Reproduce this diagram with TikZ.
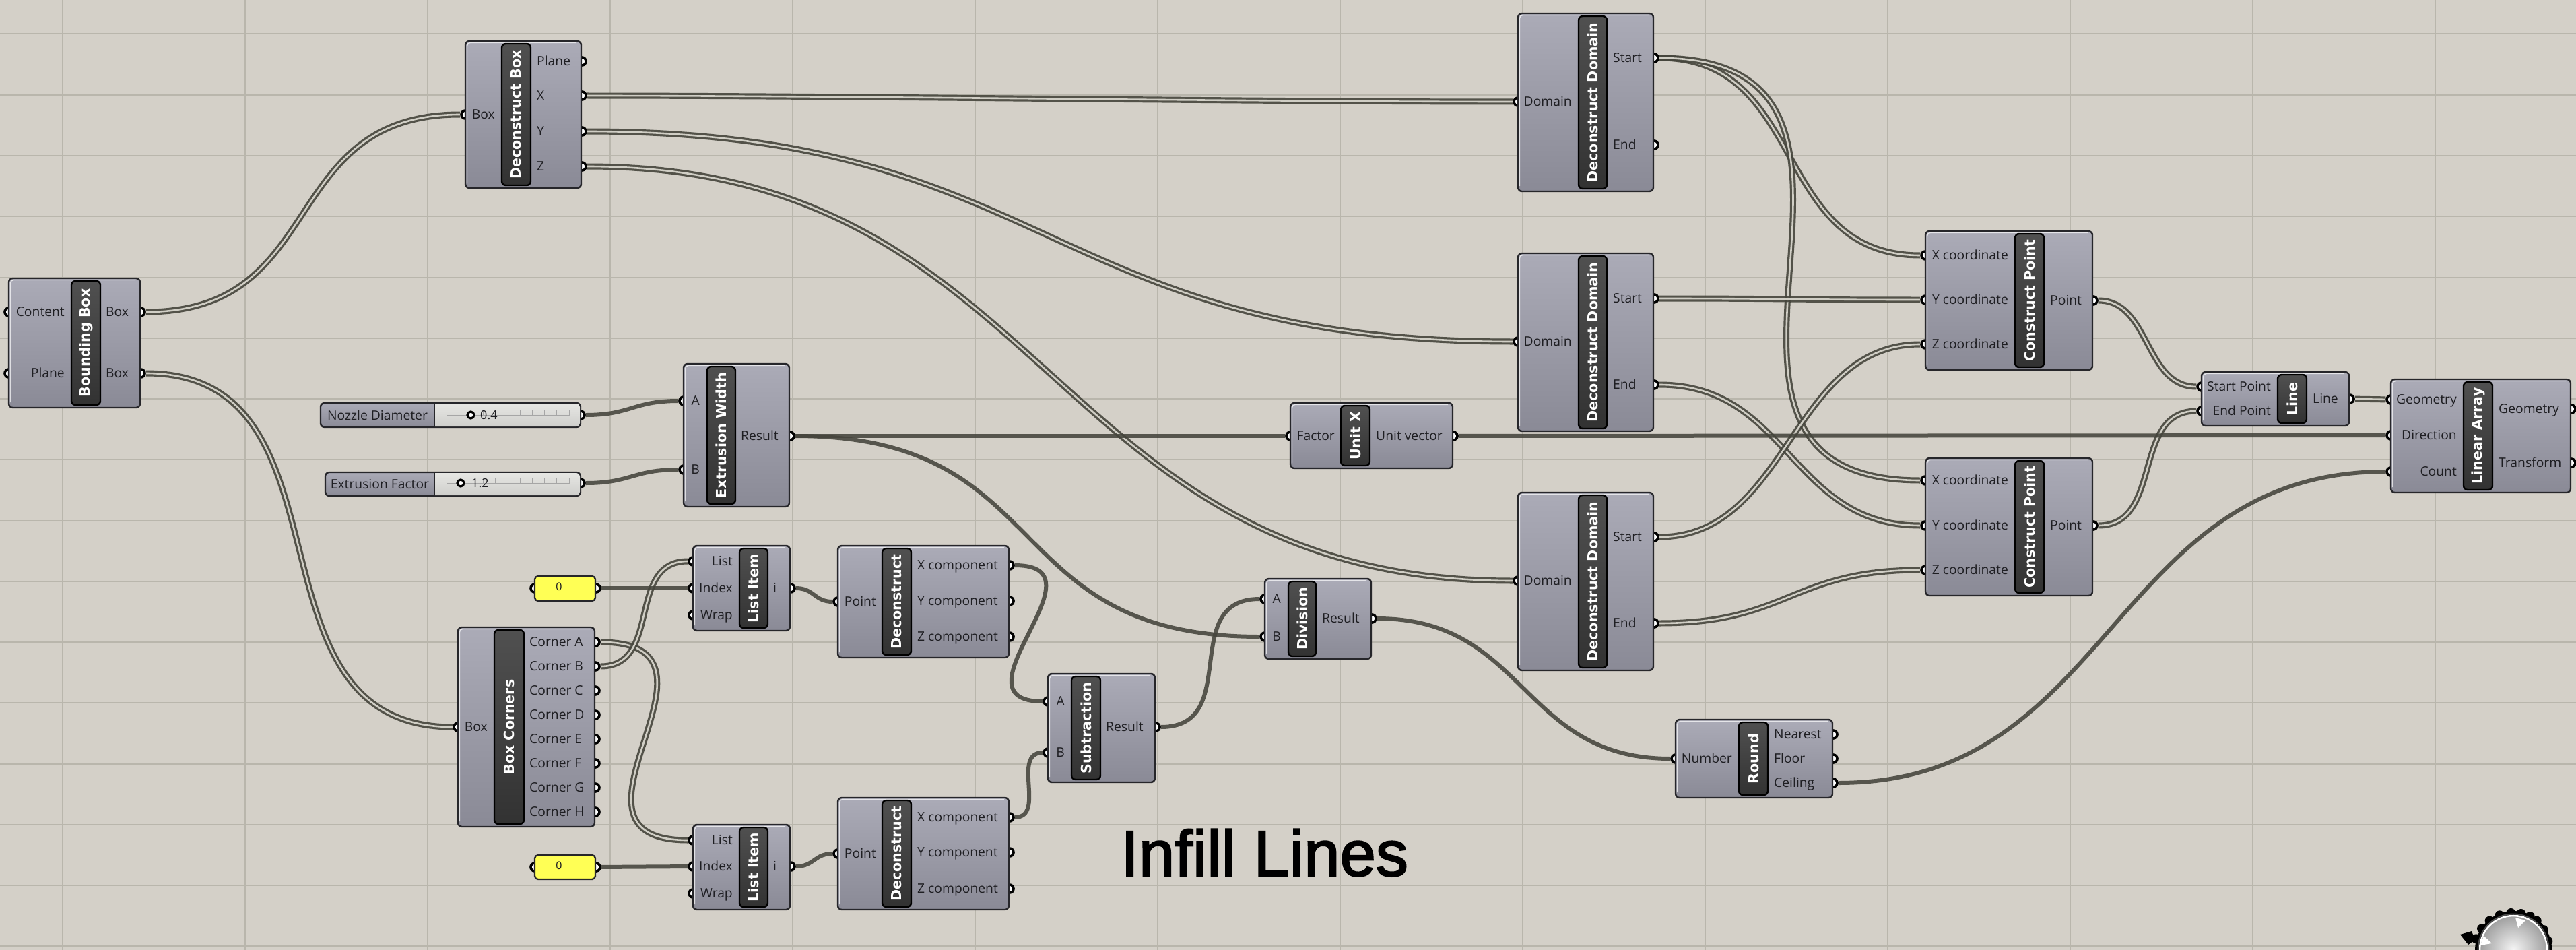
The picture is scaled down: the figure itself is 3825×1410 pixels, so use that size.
\documentclass[tikz,border=0pt]{standalone}
\usepackage{fontspec}
\setmainfont{Open Sans}
\newfontfamily\ghtitlefont{DejaVu Sans}
\newfontfamily\infillfont[FakeBold=2.2]{Liberation Sans}
\usetikzlibrary{shadings}
\pgfdeclarelayer{grid}
\pgfdeclarelayer{wires}
\pgfdeclarelayer{ports}
\pgfsetlayers{grid,wires,ports,main}
\definecolor{canvasbg}{HTML}{D4D0C8}
\definecolor{gridc}{HTML}{B9B6AC}
\definecolor{wiredark}{HTML}{45453C}
\definecolor{wirelight}{HTML}{DEDCD3}
\definecolor{bodytop}{HTML}{ABABB7}
\definecolor{bodybot}{HTML}{8A8A96}
\definecolor{bartop}{HTML}{505050}
\definecolor{barbot}{HTML}{323232}
\definecolor{edgec}{HTML}{26262A}
\definecolor{labelc}{HTML}{1E1E22}
\definecolor{panelc}{HTML}{FFFF55}
\definecolor{slidertop}{HTML}{E6E6E3}
\definecolor{sliderbot}{HTML}{CFCFCC}
\tikzset{
  gridh/.style={gridc,line width=2.6pt},
  gridv/.style={gridc,line width=2pt},
  ghbody/.style={draw=edgec,line width=2.4pt,rounded corners=6pt,inner sep=0pt,outer sep=0pt,top color=bodytop,bottom color=bodybot},
  ghbar/.style={draw=black,line width=2.4pt,rounded corners=6pt,inner sep=0pt,outer sep=0pt,top color=bartop,bottom color=barbot},
  ghtitle/.style={text=white,inner sep=0pt,rotate=90,font=\ghtitlefont\bfseries\fontsize{20.6}{22}\selectfont},
  ghlabel/.style={text=labelc,inner sep=0pt,font=\fontsize{19.3}{21}\selectfont},
  ghport/.style={circle,fill=white,draw=black,line width=3.6pt,minimum size=12pt,inner sep=0pt},
  listwire/.style={preaction={draw=wiredark,line width=9pt,draw opacity=.9},draw=wirelight,line width=2.6pt,draw opacity=.9},
  itemwire/.style={draw=wiredark,line width=6pt,draw opacity=.88},
  hilite/.style={white,line width=1.4pt,opacity=.7},
  yellowbox/.style={draw=edgec,line width=2.4pt,rounded corners=5pt,fill=panelc,inner sep=0pt},
  valuetext/.style={text=labelc,inner sep=0pt,font=\fontsize{18}{20}\selectfont},
}
% id x1 y1 x2 y2 barx1 barx2 title
\newcommand{\ghcomp}[8]{%
  \node[ghbody,minimum width={(#4-#2)*1pt},minimum height={(#5-#3)*1pt}] (#1) at ({(#2+#4)/2},{(#3+#5)/2}) {};
  \draw[hilite] ({#2+2.5},{#5-8}) -- ({#2+2.5},{#3+7}) arc[start angle=180,end angle=90,radius=4.5pt] -- ({#4-7},{#3+2.5});
  \node[ghbar,minimum width={(#7-#6)*1pt},minimum height={(#5-#3-8)*1pt}] (#1-bar) at ({(#6+#7)/2},{(#3+#5)/2}) {};
  \node[ghtitle] (#1-title) at ({(#6+#7)/2},{(#3+#5)/2}) {#8};
}
% port name, x, y, label x, label
\newcommand{\ghin}[5]{%
  \begin{pgfonlayer}{ports}\node[ghport] (#1) at (#2,#3) {};\end{pgfonlayer}
  \node[ghlabel,anchor=base east] (#1-l) at (#4,{#3+6.5}) {#5};
}
\newcommand{\ghout}[5]{%
  \begin{pgfonlayer}{ports}\node[ghport] (#1) at (#2,#3) {};\end{pgfonlayer}
  \node[ghlabel,anchor=base west] (#1-l) at (#4,{#3+6.5}) {#5};
}
% id x1 y1 x2 y2 divider portname porty label
\newcommand{\ghslider}[9]{%
  \begin{pgfonlayer}{ports}\node[ghport] (#7) at (#4,#8) {};\end{pgfonlayer}
  \node[ghbody,minimum width={(#4-#2)*1pt},minimum height={(#5-#3)*1pt}] (#1) at ({(#2+#4)/2},{(#3+#5)/2}) {};
  \fill[top color=slidertop,bottom color=sliderbot] (#6,{#3+1}) [rounded corners=5pt] -- ({#4-1},{#3+1}) -- ({#4-1},{#5-1}) [sharp corners] -- (#6,{#5-1}) -- cycle;
  \draw[edgec,line width=2pt] (#6,#3) -- (#6,#5);
  \node[ghlabel] (#1-l) at ({(#2+#6)/2},{(#3+#5)/2}) {#9};
}
\begin{document}
\begin{tikzpicture}[x=1pt,y=-1pt]
\useasboundingbox (0,0) rectangle (3825,1410);
\begin{pgfonlayer}{grid}
  \fill[canvasbg] (0,0) rectangle (3825,1410);
  \foreach \yy in {50,141,231,321,412,502,592,682,773,863,953,1043,1134,1224,1314,1404}
    \draw[gridh] (0,\yy) -- (3825,\yy);
  \foreach \xx in {93,364,635,906,1177,1448,1719,1990,2261,2532,2803,3074,3345,3616}
    \draw[gridv] (\xx,0) -- (\xx,1410);
\end{pgfonlayer}

% Bounding Box
\ghcomp{bb}{13}{413}{208}{605}{106}{149}{Bounding Box}
\ghin{bbC}{13}{463}{96}{Content}
\ghin{bbP}{13}{554}{96}{Plane}
\ghout{bbA}{209}{463}{157}{Box}
\ghout{bbB}{209}{554}{157}{Box}
% Deconstruct Box
\ghcomp{db}{691}{61}{863}{279}{745}{788}{Deconstruct Box}
\ghin{dbB}{691}{170}{735}{Box}
\ghout{dbP}{864}{91}{797}{Plane}
\ghout{dbX}{864}{142}{797}{X}
\ghout{dbY}{864}{195}{797}{Y}
\ghout{dbZ}{864}{247}{797}{Z}
% Extrusion Width
\ghcomp{ew}{1015}{540}{1172}{752}{1050}{1092}{Extrusion Width}
\ghin{ewA}{1015}{595}{1039}{A}
\ghin{ewB}{1015}{697}{1039}{B}
\ghout{ewR}{1173}{647}{1100}{Result}
% Sliders
\ghslider{s1}{476}{598}{862}{634}{645}{s1o}{616}{Nozzle Diameter}
\ghslider{s2}{483}{701}{862}{736}{645}{s2o}{717}{Extrusion Factor}
\foreach \i in {0,...,10}{
  \draw[gray!70,line width=1pt] ({663+18.2*\i},608) -- ({663+18.2*\i},617);
  \draw[gray!70,line width=1pt] ({663+18.2*\i},709) -- ({663+18.2*\i},718);
}
\draw[gray!70,line width=1pt] (663,616) -- (845,616);
\draw[gray!70,line width=1pt] (663,717) -- (845,717);
\node[circle,fill=white,draw=black,line width=3.2pt,minimum size=10pt,inner sep=0pt] (s1h) at (699,616) {};
\node[circle,fill=white,draw=black,line width=3.2pt,minimum size=10pt,inner sep=0pt] (s2h) at (684,717) {};
\node[valuetext,anchor=base west] (s1v) at (713,622.5) {0.4};
\node[valuetext,anchor=base west] (s2v) at (700,723.5) {1.2};
% Unit X
\ghcomp{ux}{1916}{598}{2157}{695}{1991}{2034}{Unit X}
\ghin{uxF}{1916}{647}{1982}{Factor}
\ghout{uxV}{2158}{647}{2043}{Unit vector}
% Deconstruct Domain
\ghcomp{dd}{2254}{20}{2455}{284}{2344}{2386}{Deconstruct Domain}
\ghin{ddD}{2254}{151}{2334}{Domain}
\ghout{ddS}{2456}{86}{2395}{Start}
\ghout{ddE}{2456}{215}{2395}{End}
\ghcomp{de}{2254}{376}{2455}{640}{2344}{2386}{Deconstruct Domain}
\ghin{deD}{2254}{507}{2334}{Domain}
\ghout{deS}{2456}{443}{2395}{Start}
\ghout{deE}{2456}{571}{2395}{End}
\ghcomp{df}{2254}{731}{2455}{995}{2344}{2386}{Deconstruct Domain}
\ghin{dfD}{2254}{862}{2334}{Domain}
\ghout{dfS}{2456}{797}{2395}{Start}
\ghout{dfE}{2456}{925}{2395}{End}
% Construct Point
\ghcomp{cp}{2859}{343}{3107}{549}{2992}{3035}{Construct Point}
\ghin{cpX}{2859}{379}{2982}{X coordinate}
\ghin{cpY}{2859}{445}{2982}{Y coordinate}
\ghin{cpZ}{2859}{511}{2982}{Z coordinate}
\ghout{cpP}{3108}{446}{3044}{Point}
\ghcomp{cq}{2859}{680}{3107}{884}{2992}{3035}{Construct Point}
\ghin{cqX}{2859}{713}{2982}{X coordinate}
\ghin{cqY}{2859}{780}{2982}{Y coordinate}
\ghin{cqZ}{2859}{846}{2982}{Z coordinate}
\ghout{cqP}{3108}{780}{3044}{Point}
% Line
\ghcomp{ln}{3269}{552}{3488}{632}{3382}{3425}{Line}
\ghin{lnS}{3269}{574}{3372}{Start Point}
\ghin{lnE}{3269}{610}{3372}{End Point}
\ghout{lnL}{3489}{592}{3434}{Line}
% Linear Array
\ghcomp{la}{3550}{563}{3817}{731}{3658}{3701}{Linear Array}
\ghin{laG}{3550}{593}{3648}{Geometry}
\ghin{laD}{3550}{646}{3648}{Direction}
\ghin{laC}{3550}{700}{3648}{Count}
\ghout{laO}{3818}{607}{3710}{Geometry}
\ghout{laT}{3818}{687}{3710}{Transform}
% Box Corners
\ghcomp{bc}{680}{931}{883}{1227}{734}{778}{Box Corners}
\ghin{bcB}{680}{1079}{724}{Box}
\ghout{bcA}{884}{953}{786}{Corner A}
\ghout{bcb}{884}{989}{786}{Corner B}
\ghout{bcC}{884}{1025}{786}{Corner C}
\ghout{bcD}{884}{1061}{786}{Corner D}
\ghout{bcE}{884}{1097}{786}{Corner E}
\ghout{bcF}{884}{1133}{786}{Corner F}
\ghout{bcG}{884}{1169}{786}{Corner G}
\ghout{bcH}{884}{1205}{786}{Corner H}
% List Items
\ghcomp{li}{1029}{810}{1173}{936}{1098}{1140}{List Item}
\ghin{liL}{1029}{833}{1088}{List}
\ghin{liI}{1029}{873}{1088}{Index}
\ghin{liW}{1029}{913}{1088}{Wrap}
\ghout{liO}{1174}{873}{1148}{i}
\ghcomp{lj}{1029}{1224}{1173}{1350}{1098}{1140}{List Item}
\ghin{ljL}{1029}{1247}{1088}{List}
\ghin{ljI}{1029}{1286}{1088}{Index}
\ghin{ljW}{1029}{1326}{1088}{Wrap}
\ghout{ljO}{1174}{1286}{1148}{i}
% Yellow panels
\begin{pgfonlayer}{ports}
  \node[ghport] (y1a) at (794,873) {};
  \node[ghport] (y1b) at (885,873) {};
  \node[ghport] (y2a) at (794,1287) {};
  \node[ghport] (y2b) at (885,1287) {};
\end{pgfonlayer}
\node[yellowbox,minimum width=90pt,minimum height=37pt] (y1) at (839,873.5) {};
\node[yellowbox,minimum width=90pt,minimum height=36pt] (y2) at (839,1287) {};
\node[valuetext,font=\fontsize{16}{18}\selectfont] (y1t) at (830,871) {0};
\node[valuetext,font=\fontsize{16}{18}\selectfont] (y2t) at (830,1285) {0};
% Deconstruct
\ghcomp{dp}{1244}{810}{1498}{976}{1310}{1353}{Deconstruct}
\ghin{dpP}{1244}{893}{1301}{Point}
\ghout{dpX}{1499}{839}{1362}{X component}
\ghout{dpY}{1499}{892}{1362}{Y component}
\ghout{dpZ}{1499}{945}{1362}{Z component}
\ghcomp{dq}{1244}{1184}{1498}{1350}{1310}{1353}{Deconstruct}
\ghin{dqP}{1244}{1267}{1301}{Point}
\ghout{dqX}{1499}{1213}{1362}{X component}
\ghout{dqY}{1499}{1265}{1362}{Y component}
\ghout{dqZ}{1499}{1319}{1362}{Z component}
% Subtraction
\ghcomp{su}{1556}{1000}{1715}{1161}{1591}{1634}{Subtraction}
\ghin{suA}{1556}{1041}{1581}{A}
\ghin{suB}{1556}{1117}{1581}{B}
\ghout{suR}{1716}{1079}{1642}{Result}
% Division
\ghcomp{dv}{1878}{859}{2036}{978}{1913}{1954}{Division}
\ghin{dvA}{1878}{889}{1902}{A}
\ghin{dvB}{1878}{945}{1902}{B}
\ghout{dvR}{2037}{918}{1963}{Result}
% Round
\ghcomp{rd}{2488}{1068}{2721}{1184}{2582}{2625}{Round}
\ghin{rdN}{2488}{1126}{2572}{Number}
\ghout{rdE}{2722}{1090}{2634}{Nearest}
\ghout{rdF}{2722}{1126}{2634}{Floor}
\ghout{rdC}{2722}{1162}{2634}{Ceiling}
% Title
\node[inner sep=0pt,anchor=base west,text=black,font=\infillfont\fontsize{96}{100}\selectfont] (infill) at (1664,1300) {Infill Lines};

% Wires
\begin{pgfonlayer}{wires}
  \draw[listwire] (bbA) .. controls +(280,0) and +(-280,0) .. (dbB);
  \draw[listwire] (bbB) .. controls +(330,0) and +(-330,0) .. (bcB);
  \draw[listwire] (dbX) .. controls +(400,0) and +(-400,0) .. (ddD);
  \draw[listwire] (dbY) .. controls +(700,0) and +(-700,0) .. (deD);
  \draw[listwire] (dbZ) .. controls +(700,0) and +(-700,0) .. (dfD);
  \draw[listwire] (bcA) .. controls +(230,0) and +(-230,0) .. (ljL);
  \draw[listwire] (bcb) .. controls +(100,0) and +(-100,0) .. (liL);
  \draw[listwire] (ddS) .. controls +(230,0) and +(-230,0) .. (cpX);
  \draw[listwire] (ddS) .. controls +(440,0) and +(-440,0) .. (cqX);
  \draw[listwire] (deS) .. controls +(200,0) and +(-200,0) .. (cpY);
  \draw[listwire] (deE) .. controls +(200,0) and +(-200,0) .. (cqY);
  \draw[listwire] (dfS) .. controls +(200,0) and +(-200,0) .. (cpZ);
  \draw[listwire] (dfE) .. controls +(200,0) and +(-200,0) .. (cqZ);
  \draw[listwire] (cpP) .. controls +(85,0) and +(-85,0) .. (lnS);
  \draw[listwire] (cqP) .. controls +(105,0) and +(-105,0) .. (lnE);
  \draw[listwire] (lnL) -- (laG);
  \draw[itemwire] (s1o) .. controls +(75,0) and +(-75,0) .. (ewA);
  \draw[itemwire] (s2o) .. controls +(75,0) and +(-75,0) .. (ewB);
  \draw[itemwire] (ewR) -- (uxF);
  \draw[itemwire] (ewR) .. controls +(400,0) and +(-400,0) .. (dvB);
  \draw[itemwire] (uxV) -- (laD);
  \draw[itemwire] (y1b) -- (liI);
  \draw[itemwire] (y2b) -- (ljI);
  \draw[itemwire] (liO) .. controls +(35,0) and +(-35,0) .. (dpP);
  \draw[itemwire] (ljO) .. controls +(35,0) and +(-35,0) .. (dqP);
  \draw[itemwire] (dpX) .. controls +(150,0) and +(-150,0) .. (suA);
  \draw[itemwire] (dqX) .. controls +(55,0) and +(-55,0) .. (suB);
  \draw[itemwire] (suR) .. controls +(130,0) and +(-130,0) .. (dvA);
  \draw[itemwire] (dvR) .. controls +(230,0) and +(-230,0) .. (rdN);
  \draw[itemwire] (rdC) .. controls +(415,0) and +(-415,0) .. (laC);
\end{pgfonlayer}

% Dial (corner of the canvas)
\begin{scope}
  \clip (3600,1300) rectangle (3825,1410);
  \fill[black] (3732,1409) circle[radius=57pt];
  \foreach \X/\Y in {530/430,555/385,590/350,635/325,685/315,730/318,770/330,800/350,830/390,850/440}
    \fill[black] ({3500+\X/3},{1250+\Y/3}) circle[radius=7pt];
  \fill[black] (3653,1387) -- (3670,1382) -- (3675,1395) -- (3665,1402) -- cycle;
  \shade[inner color=white!92!gray,outer color=gray!75] (3732,1409) circle[radius=50pt];
  \draw[white,line width=2.6pt] (3732,1409) circle[radius=50pt];
  \draw[black!70,line width=2pt] (3732,1409) circle[radius=52.5pt];
  \fill[white] (3735,1362) -- (3750,1366) -- (3739,1377) -- cycle;
  \fill[white] (3688,1389) -- (3700,1400) -- (3683,1403) -- cycle;
\end{scope}
\end{tikzpicture}
\end{document}
